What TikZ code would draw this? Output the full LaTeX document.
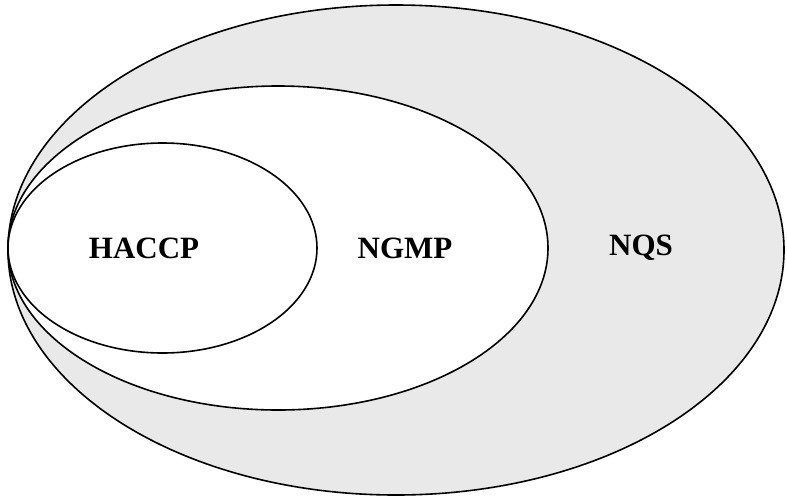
\documentclass[tikz,border=0pt]{standalone}
\usepackage{fontspec}
\setmainfont{Liberation Serif}
\begin{document}
\begin{tikzpicture}[x=1pt,y=-1pt,
  ring/.style={draw=black,line width=1.6pt},
  lab/.style={font=\fontsize{31}{31}\selectfont\bfseries,inner sep=0pt}]
\useasboundingbox (0,0) rectangle (787,499);
\fill[white] (0,0) rectangle (787,499);
\draw[ring,fill=gray!17] (396,250) ellipse [x radius=388, y radius=245];
\draw[ring,fill=white] (278,248) ellipse [x radius=270, y radius=162];
\draw[ring,fill=white] (162.5,248) ellipse [x radius=154.5, y radius=105];
\node[lab] (haccp) at (144,248) {HACCP};
\node[lab] (ngmp) at (405,248) {NGMP};
\node[lab] (nqs) at (641,248) {NQS};
\end{tikzpicture}
\end{document}
